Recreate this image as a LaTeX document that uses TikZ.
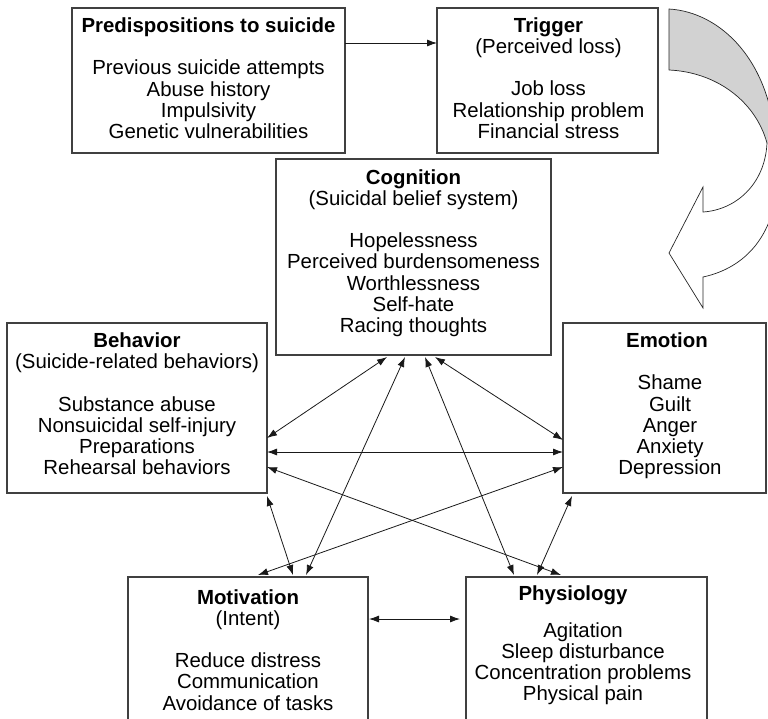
\documentclass[tikz,border=0pt]{standalone}
\usepackage{fontspec}
\setmainfont{Liberation Sans}
\usetikzlibrary{arrows.meta}
\begin{document}
\begin{tikzpicture}[x=1pt,y=-1pt,
  box/.style={draw=black!75, line width=1.2pt, inner sep=0pt, outer sep=0pt},
  txt/.style={anchor=north, align=center, inner sep=0pt, text=black, font={\fontsize{20.4}{21.2}\selectfont}},
  link/.style={draw=black!90, line width=0.8pt, {Latex[length=10pt,width=7pt]}-{Latex[length=10pt,width=7pt]}},
  onelink/.style={draw=black!90, line width=0.8pt, -{Latex[length=10pt,width=7pt]}},
  curv/.style={draw=black!85, line width=0.7pt, line join=miter}
]
\useasboundingbox (0,0) rectangle (768,718);
\clip (0,0) rectangle (768,718);

% boxes
\node[box, minimum width=273pt, minimum height=145pt] (pred) at (208.5,80.5) {};
\node[box, minimum width=221pt, minimum height=145pt] (trig) at (547.5,80.5) {};
\node[box, minimum width=275pt, minimum height=196pt] (cog) at (413.5,257) {};
\node[box, minimum width=260pt, minimum height=170pt] (beh) at (137,408) {};
\node[box, minimum width=203pt, minimum height=170pt] (emo) at (664.5,408) {};
\node[box, minimum width=240pt, minimum height=163pt] (mot) at (248,658.5) {};
\node[box, minimum width=241pt, minimum height=163pt] (phy) at (586.5,658.5) {};

% texts
\node[txt] (predt) at (208.5,17.5) {\strut\textbf{Predispositions to suicide}\\[21.2pt]Previous suicide attempts\\Abuse history\\Impulsivity\\Genetic vulnerabilities};
\node[txt] (trigt) at (548.5,17.2) {\strut\textbf{Trigger}\\(Perceived loss)\\[21.2pt]Job loss\\Relationship problem\\Financial stress};
\node[txt] (cogt) at (413.5,169) {\strut\textbf{Cognition}\\(Suicidal belief system)\\[21.2pt]Hopelessness\\Perceived burdensomeness\\Worthlessness\\Self-hate\\Racing thoughts};
\node[txt] (beht) at (137,332.5) {\strut\textbf{Behavior}\\(Suicide-related behaviors)\\[21.2pt]Substance abuse\\Nonsuicidal self-injury\\Preparations\\Rehearsal behaviors};
\node[txt] (emot) at (670,332.5) {\strut\textbf{Emotion}\hspace*{6pt}\\[21.2pt]Shame\\Guilt\\Anger\\Anxiety\\Depression};
\node[txt] (mott) at (248,589) {\strut\textbf{Motivation}\\(Intent)\\[21.2pt]Reduce distress\\Communication\\Avoidance of tasks};
\node[txt] (phyt) at (583,585.8) {\strut\textbf{Physiology}\hspace*{20pt}\\[15pt]Agitation\\Sleep disturbance\\Concentration problems\\Physical pain};

% curved arrow
\fill[gray!35] (669,9) .. controls (720,12) and (772,60) .. (776,150)
  -- (767,143) .. controls (755,100) and (715,72) .. (669,70) -- cycle;
\draw[curv] (669,70) -- (669,9) .. controls (720,12) and (772,60) .. (776,150);
\draw[curv] (669,70) .. controls (715,72) and (755,100) .. (767,143);
\draw[curv] (767,143) .. controls (765,185) and (735,210) .. (703,212)
  -- (703,187) -- (669,253) -- (703,308) -- (703,277)
  .. controls (745,268) and (778,235) .. (778,170) -- (776,150);

% connectors
\draw[onelink] ([yshift=-35pt]pred.north east) -- ([yshift=-35pt]trig.north west);
\draw[link] ([xshift=111pt,yshift=-2pt]cog.south west) -- ([yshift=-30pt]beh.east);
\draw[link] ([yshift=-44pt]beh.east) -- ([yshift=-44pt]emo.west);
\draw[link] ([yshift=-59pt]beh.east) -- ([xshift=95pt,yshift=2pt]phy.north west);
\draw[link] ([xshift=129pt,yshift=-2pt]cog.south west) -- ([xshift=178pt,yshift=2pt]mot.north west);
\draw[link] ([xshift=149pt,yshift=-2pt]cog.south west) -- ([xshift=48pt,yshift=2pt]phy.north west);
\draw[link] ([xshift=159pt,yshift=-2pt]cog.south west) -- ([yshift=-32pt]emo.west);
\draw[link] ([yshift=-59pt]emo.west) -- ([xshift=130pt,yshift=2pt]mot.north west);
\draw[link] ([yshift=-3pt]beh.south east) -- ([xshift=165pt,yshift=2pt]mot.north west);
\draw[link] ([xshift=9pt,yshift=-3pt]emo.south west) -- ([xshift=71pt,yshift=2pt]phy.north west);
\draw[link] ([xshift=1pt,yshift=-42pt]mot.north east) -- ([xshift=-6pt,yshift=-42pt]phy.north west);
\end{tikzpicture}
\end{document}
